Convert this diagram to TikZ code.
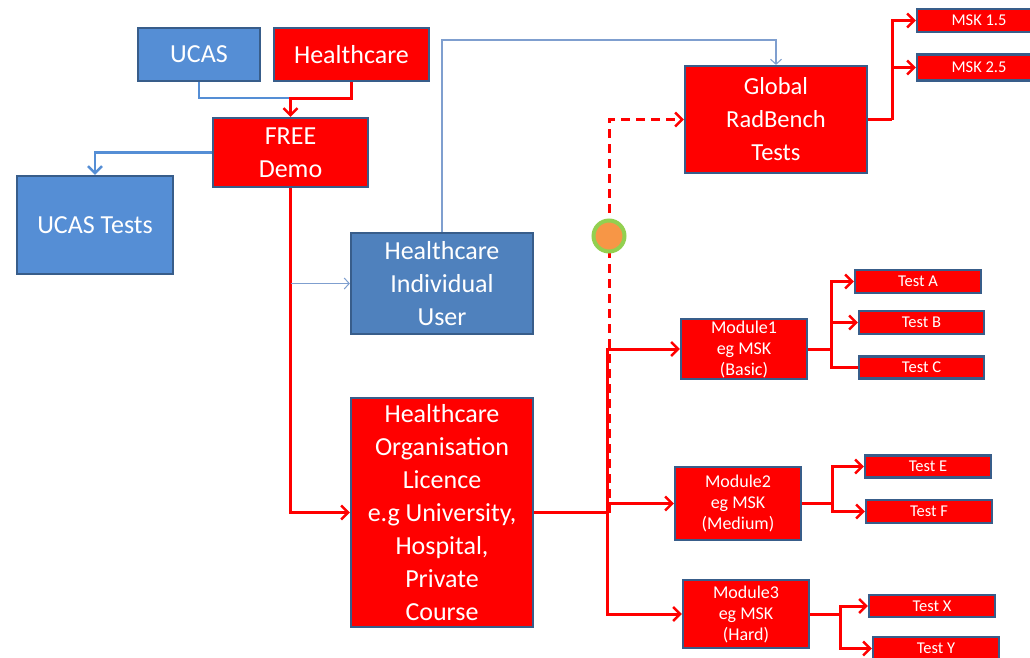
\documentclass[tikz,border=0pt]{standalone}
\usepackage{fontspec}
\setmainfont{Carlito}
\usetikzlibrary{arrows.meta}
\definecolor{rbred}{HTML}{FF0000}
\definecolor{rbblue}{HTML}{558ED5}
\definecolor{rbblueb}{HTML}{4F81BD}
\definecolor{rbborder}{HTML}{385D8A}
\definecolor{rbthin}{HTML}{7F9FCF}
\definecolor{rborange}{HTML}{F79646}
\definecolor{rbgreen}{HTML}{92D050}
\tikzset{
  box/.style={draw=rbborder, line width=2.2pt, text=white, align=center, inner sep=0pt, anchor=center},
  redbox/.style={box, fill=rbred},
  bluebox/.style={box, fill=rbblue},
  bigtext/.style={font=\fontsize{26}{33}\selectfont},
  modtext/.style={font=\fontsize{18}{21}\selectfont},
  smalltext/.style={font=\fontsize{16.5}{19}\selectfont},
  tip/.style={-{Straight Barb[length=7pt,width=14pt,line width=2.5pt]}},
  thintip/.style={-{Straight Barb[length=5pt,width=11pt,line width=1pt]}},
  redline/.style={draw=rbred, line width=3pt},
  blueline/.style={draw=rbblue, line width=2.5pt},
  thinline/.style={draw=rbthin, line width=1.2pt},
}
\begin{document}
\begin{tikzpicture}[x=1pt,y=-1pt]
\useasboundingbox (0,0) rectangle (1030,657);
\clip (0,0) rectangle (1030,657);
% nodes
\node[bluebox,bigtext,minimum width=122,minimum height=53] (ucas) at (199,54.5) {UCAS};
\node[redbox,bigtext,minimum width=155,minimum height=53] (hc) at (351.5,54.5) {Healthcare};
\node[redbox,bigtext,minimum width=155,minimum height=69] (free) at (290.5,152.5) {FREE\\Demo};
\node[bluebox,bigtext,minimum width=156,minimum height=98] (ucastests) at (95,225) {UCAS Tests};
\node[box,fill=rbblueb,bigtext,minimum width=182,minimum height=101] (indiv) at (442,283.5) {Healthcare\\Individual\\User};
\node[redbox,bigtext,minimum width=182,minimum height=229] (org) at (442,512.5) {Healthcare\\Organisation\\Licence\\e.g University,\\Hospital,\\Private\\Course};
\node[redbox,font=\fontsize{24.5}{33}\selectfont,minimum width=182,minimum height=107] (global) at (776,119.5) {Global\\RadBench\\Tests};
\node[redbox,smalltext,minimum width=124,minimum height=23] (msk15) at (979,20.5) {MSK 1.5};
\node[redbox,smalltext,minimum width=124,minimum height=26] (msk25) at (979,67.5) {MSK 2.5};
\node[redbox,modtext,minimum width=126,minimum height=60] (mod1) at (744,349) {Module1\\eg MSK\\(Basic)};
\node[redbox,modtext,minimum width=126,minimum height=73] (mod2) at (738,503.5) {Module2\\eg MSK\\(Medium)};
\node[redbox,modtext,minimum width=126,minimum height=68] (mod3) at (746,614) {Module3\\eg MSK\\(Hard)};
\node[redbox,smalltext,minimum width=126,minimum height=23] (testA) at (918,281.5) {Test A};
\node[redbox,smalltext,minimum width=125,minimum height=23] (testB) at (921.5,322.5) {Test B};
\node[redbox,smalltext,minimum width=125,minimum height=22] (testC) at (921.5,367.5) {Test C};
\node[redbox,smalltext,minimum width=126,minimum height=22] (testE) at (928,466.5) {Test E};
\node[redbox,smalltext,minimum width=126,minimum height=23] (testF) at (929,511.5) {Test F};
\node[redbox,smalltext,minimum width=126,minimum height=22] (testX) at (932,606) {Test X};
\node[redbox,smalltext,minimum width=126,minimum height=23] (testY) at (936,648.5) {Test Y};
% coordinates
\coordinate (j1) at (290.5,98);
\coordinate (k1) at (290.5,283.5);
\coordinate (g1) at (776,40);
\coordinate (d0) at (609,512.5);
\coordinate (b0) at (607,512.5);
\coordinate (gm) at (892,119.5);
\coordinate (m1) at (831,349);
\coordinate (m2) at (832,503.5);
\coordinate (m3) at (840,614);
% connectors top
\draw[blueline] (ucas.south) |- (j1);
\draw[redline,tip] (hc.south) |- (j1) -- (free.north);
\draw[blueline,tip] (free.west) -| (ucastests.north);
\draw[redline,tip] (free.south) |- (org.west);
\draw[thinline,thintip] (k1) -- (indiv.west);
\draw[thinline,thintip] (indiv.north) |- (g1) -- (global.north);
% dashed
\draw[redline,dashed,dash pattern=on 9pt off 6pt,tip] (d0) |- (global.west);
\node[circle,fill=rborange,draw=rbgreen,line width=4pt,minimum size=31pt,inner sep=0pt] (dot) at (609,236) {};
% org to modules
\draw[redline] (org.east) -- (b0);
\draw[redline,tip] (b0) |- (mod1.west);
\draw[redline,tip] (b0) |- (mod2.west);
\draw[redline,tip] (b0) |- (mod3.west);
% global to msk
\draw[redline] (global.east) -- (gm);
\draw[redline,tip] (gm) |- (msk15.west);
\draw[redline,tip] (gm) |- (msk25.west);
% module tests
\draw[redline] (mod1.east) -- (m1);
\draw[redline,tip] (m1) |- (testA.west);
\draw[redline,tip] (m1) |- (testB.west);
\draw[redline] (m1) |- (testC.west);
\draw[redline] (mod2.east) -- (m2);
\draw[redline,tip] (m2) |- (testE.west);
\draw[redline,tip] (m2) |- (testF.west);
\draw[redline] (mod3.east) -- (m3);
\draw[redline,tip] (m3) |- (testX.west);
\draw[redline,tip] (m3) |- (testY.west);
\end{tikzpicture}
\end{document}
